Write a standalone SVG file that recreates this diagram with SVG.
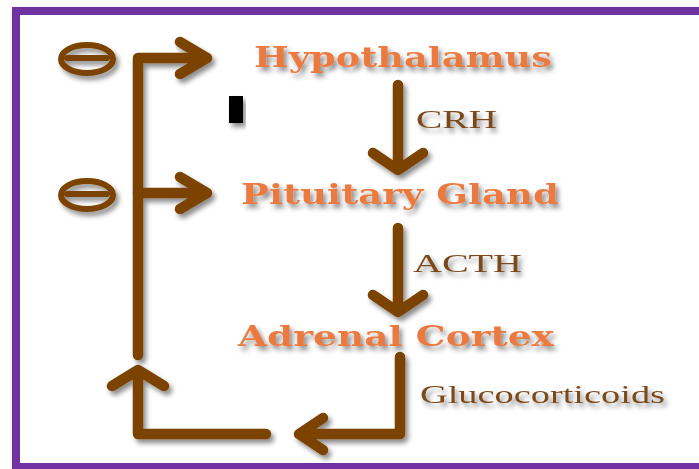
<svg xmlns="http://www.w3.org/2000/svg" width="699" height="469" viewBox="0 0 699 469">
<defs>
<filter id="sh" x="-20%" y="-20%" width="140%" height="160%">
<feDropShadow dx="3" dy="4" stdDeviation="2.5" flood-color="#000" flood-opacity="0.45"/>
</filter>
<filter id="fsh" x="-5%" y="-5%" width="110%" height="110%">
<feDropShadow dx="3" dy="4" stdDeviation="3" flood-color="#000" flood-opacity="0.4"/>
</filter>
<style>
.ln{fill:none;stroke:#7b4204;stroke-width:10.5;stroke-linecap:round;stroke-linejoin:round}
.nd{font-family:"DejaVu Serif","Liberation Serif",serif;font-weight:bold;font-size:28px;fill:#ea7a40}
.lb{font-family:"Liberation Serif","DejaVu Serif",serif;font-size:25px;fill:#7b4a1c}
</style>
</defs>
<rect x="0" y="0" width="699" height="469" fill="#ffffff"/>
<rect x="16" y="11" width="700" height="456" fill="#ffffff" stroke="#7030a0" stroke-width="8" filter="url(#fsh)"/>
<rect x="229" y="96" width="14" height="27" fill="#000" filter="url(#sh)"/>
<g id="connectors" filter="url(#sh)">
<path class="ln" d="M138 355 V58 H205 M180 42 L207 58 L180 74"/>
<path class="ln" d="M138 193 H205 M180 177 L207 193 L180 209"/>
<path class="ln" d="M112 386 L138 370 L164 386 M138 372 V434 H266"/>
<path class="ln" d="M400 357 V434 H300 M323 418 L299 434 L323 450"/>
<path class="ln" d="M398 85 V168 M373 153 L398 170 L423 153"/>
<path class="ln" d="M398 228 V310 M373 295 L398 312 L423 295"/>
</g>
<g id="inhibit1" filter="url(#sh)">
<ellipse cx="87" cy="59" rx="26" ry="14" fill="none" stroke="#7b4204" stroke-width="6"/>
<line x1="67" y1="58" x2="107" y2="58" stroke="#7b4204" stroke-width="6" stroke-linecap="round"/>
</g>
<g id="inhibit2" filter="url(#sh)">
<ellipse cx="87" cy="195" rx="26" ry="14" fill="none" stroke="#7b4204" stroke-width="6"/>
<line x1="67" y1="194" x2="107" y2="194" stroke="#7b4204" stroke-width="6" stroke-linecap="round"/>
</g>
<g id="hypothalamus" filter="url(#sh)"><text class="nd" x="254" y="67" textLength="298" lengthAdjust="spacingAndGlyphs">Hypothalamus</text></g>
<g id="pituitary" filter="url(#sh)"><text class="nd" x="241" y="204" textLength="318" lengthAdjust="spacingAndGlyphs">Pituitary Gland</text></g>
<g id="adrenal" filter="url(#sh)"><text class="nd" x="238" y="346" textLength="316" lengthAdjust="spacingAndGlyphs">Adrenal Cortex</text></g>
<g id="crh" filter="url(#sh)"><text class="lb" x="416" y="128" textLength="81" lengthAdjust="spacingAndGlyphs">CRH</text></g>
<g id="acth" filter="url(#sh)"><text class="lb" x="413" y="272" textLength="109" lengthAdjust="spacingAndGlyphs">ACTH</text></g>
<g id="gluco" filter="url(#sh)"><text class="lb" x="420" y="403" textLength="245" lengthAdjust="spacingAndGlyphs">Glucocorticoids</text></g>
</svg>
